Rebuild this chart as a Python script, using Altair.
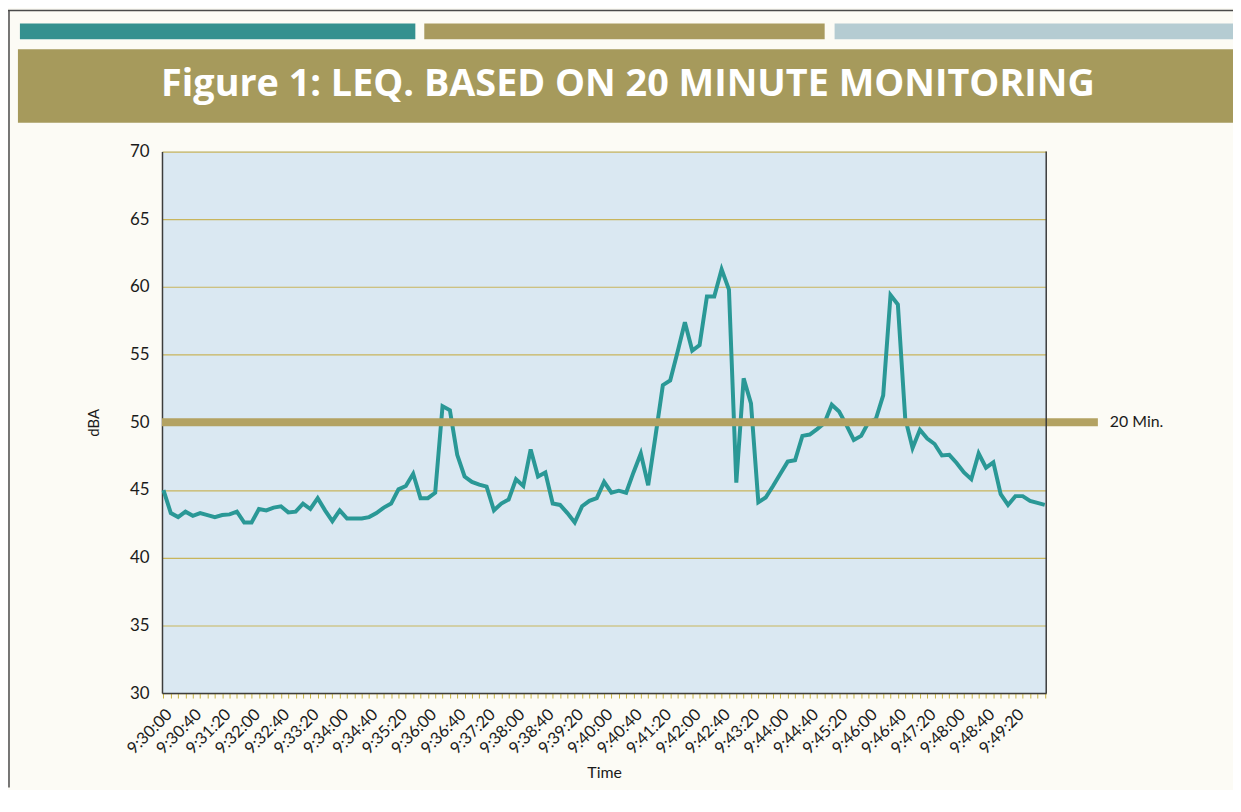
import json
import altair as alt
import pandas as pd

# ---------------- data ----------------
START_H, START_M = 9, 30
LEQ_DBA = [
    45.0, 43.3, 43.0, 43.4, 43.1, 43.3, 43.15, 43.0, 43.15, 43.2,
    43.4, 42.6, 42.6, 43.6, 43.5, 43.7, 43.8, 43.35, 43.4, 44.0,
    43.6, 44.4, 43.5, 42.7, 43.5, 42.9, 42.9, 42.9, 43.0, 43.3,
    43.7, 44.0, 45.05, 45.3, 46.2, 44.4, 44.4, 44.8, 51.2, 50.9,
    47.6, 46.0, 45.6, 45.4, 45.25, 43.5, 44.0, 44.3, 45.8, 45.3,
    48.0, 46.0, 46.3, 44.0, 43.9, 43.3, 42.6, 43.8, 44.2, 44.4,
    45.6, 44.8, 44.95, 44.8, 46.3, 47.7, 45.35, 49.0, 52.75, 53.1,
    55.2, 57.4, 55.3, 55.7, 59.3, 59.3, 61.3, 59.8, 45.55, 53.25,
    51.4, 44.1, 44.45, 45.3, 46.2, 47.1, 47.2, 49.0, 49.1, 49.5,
    49.95, 51.3, 50.8, 49.8, 48.7, 49.0, 50.0, 50.25, 52.0, 59.4,
    58.7, 50.3, 48.1, 49.45, 48.8, 48.4, 47.55, 47.6, 47.0, 46.3,
    45.8, 47.7, 46.65, 47.05, 44.7, 43.9, 44.55, 44.55, 44.2, 44.05,
    43.9,
]
TIMES = []
for k in range(len(LEQ_DBA)):
    secs = k * 10
    TIMES.append(f"{START_H}:{START_M + secs // 60:02d}:{secs % 60:02d}")

TICK_LABELS = [
    "9:30:00", "9:30:40", "9:31:20", "9:32:00", "9:32:40", "9:33:20",
    "9:34:00", "9:34:40", "9:35:20", "9:36:00", "9:36:40", "9:37:20",
    "9:38:00", "9:38:40", "9:39:20", "9:40:00", "9:40:40", "9:41:20",
    "9:42:00", "9:42:40", "9:43:20", "9:44:00", "9:44:40", "9:45:20",
    "9:46:00", "9:46:40", "9:47:20", "9:48:00", "9:48:40", "9:49:20",
]
LIMIT_LEVEL = [50]
LIMIT_LABEL = ["20 Min."]
TITLE = "Figure 1:  LEQ. BASED ON 20 MINUTE MONITORING"

df = pd.DataFrame({"Time": TIMES, "dBA": LEQ_DBA})
limit_df = pd.DataFrame({"level": LIMIT_LEVEL, "label": LIMIT_LABEL})
one = pd.DataFrame({"k": [0]})

FONT = "Lato"
W, H = 890, 545

label_expr = "indexof(" + json.dumps(TICK_LABELS) + ", datum.value) >= 0 ? datum.value : ''"

x_enc = alt.X(
    "Time:O", sort=None, title="Time",
    scale=alt.Scale(padding=0.2),
    axis=alt.Axis(
        labelExpr=label_expr, labelAngle=315, labelOverlap=False,
        labelFontSize=16.5, labelColor="#1a1a1a", labelFont=FONT, labelPadding=8,
        tickColor="#c9b441", tickSize=5, tickWidth=1,
        domainColor="#3c3c3c", domainWidth=1.5,
        titleFontSize=16, titleFontWeight="normal", titleColor="#1a1a1a", titleFont=FONT,
        titlePadding=8,
    ),
)
y_scale = alt.Scale(domain=[30, 70], nice=False, zero=False)

line = alt.Chart(df).mark_line(color="#2a9896", strokeWidth=4, strokeJoin="miter").encode(
    x=x_enc,
    y=alt.Y(
        "dBA:Q", scale=y_scale, title="dBA",
        axis=alt.Axis(
            values=[30, 35, 40, 45, 50, 55, 60, 65, 70],
            ticks=False, labelFontSize=17, labelColor="#1a1a1a", labelFont=FONT,
            labelPadding=13, grid=True, gridColor="#c8b55c", gridWidth=1.2,
            domainColor="#3c3c3c", domainWidth=1.5,
            titleFontSize=15, titleFontWeight="normal", titleColor="#1a1a1a", titleFont=FONT,
            titlePadding=28,
        ),
    ),
)

limit_rule = alt.Chart(limit_df).mark_rule(color="#b3a262", strokeWidth=8).encode(
    y=alt.Y("level:Q", scale=y_scale),
    x=alt.value(0), x2=alt.value(942),
)
limit_text = alt.Chart(limit_df).mark_text(
    align="left", baseline="middle", fontSize=16, font=FONT, color="#1a1a1a"
).encode(y=alt.Y("level:Q", scale=y_scale), x=alt.value(954), text="label:N")

right_border = alt.Chart(one).mark_rule(color="#3c3c3c", strokeWidth=1.5).encode(
    x=alt.value(W), y=alt.value(0), y2=alt.value(H)
)

# decorative header
frame_top = alt.Chart(one).mark_rule(color="#4a4a4a", strokeWidth=1.5).encode(
    x=alt.value(-155), x2=alt.value(1080), y=alt.value(-142)
)
frame_left = alt.Chart(one).mark_rule(color="#4a4a4a", strokeWidth=1.5).encode(
    x=alt.value(-154), y=alt.value(-142), y2=alt.value(H + 95)
)
bar1 = alt.Chart(one).mark_rect(color="#35918f").encode(
    x=alt.value(-143), x2=alt.value(255), y=alt.value(-129), y2=alt.value(-113)
)
bar2 = alt.Chart(one).mark_rect(color="#a99b5f").encode(
    x=alt.value(264), x2=alt.value(667), y=alt.value(-129), y2=alt.value(-113)
)
bar3 = alt.Chart(one).mark_rect(color="#b5ccd2").encode(
    x=alt.value(677), x2=alt.value(1080), y=alt.value(-129), y2=alt.value(-113)
)
banner = alt.Chart(one).mark_rect(color="#a69a5c").encode(
    x=alt.value(-145), x2=alt.value(1080), y=alt.value(-103), y2=alt.value(-29)
)
title_text = alt.Chart(one).mark_text(
    text=TITLE, font="Open Sans", fontSize=38, fontWeight="bold", color="#ffffff",
    align="center", baseline="middle",
).encode(x=alt.value(469), y=alt.value(-67))

chart = alt.layer(
    frame_top, frame_left, bar1, bar2, bar3, banner, title_text,
    line, limit_rule, limit_text, right_border,
).properties(
    width=W, height=H,
    autosize=alt.AutoSizeParams(type="none"),
    padding={"left": 155, "top": 142, "right": 188, "bottom": 95},
    background="#fcfbf5",
).configure_view(
    fill="#dae8f2", stroke=None
)

chart.save("out.html", embed_options={"renderer": "svg", "actions": False})
